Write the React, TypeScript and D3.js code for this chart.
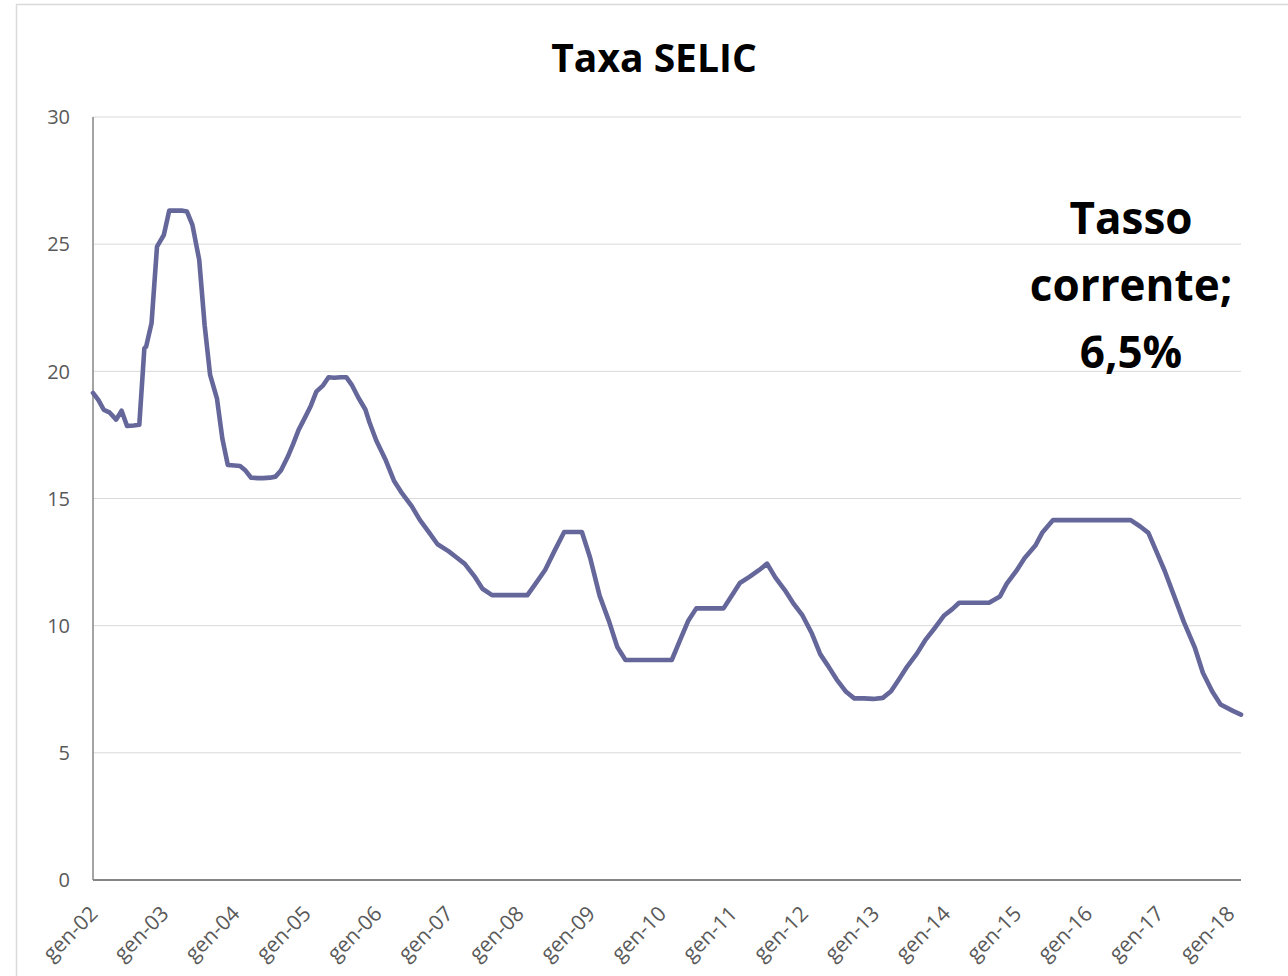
import React from "react";
import * as d3 from "d3";

const meetingDates: string[] = [
  "2002-01-23","2002-02-20","2002-03-20","2002-04-17","2002-05-22","2002-06-19","2002-07-17","2002-08-21","2002-09-18","2002-10-14","2002-10-23","2002-11-20","2002-12-18",
  "2003-01-22","2003-02-19","2003-03-19","2003-04-23","2003-05-21","2003-06-18","2003-07-23","2003-08-20","2003-09-17","2003-10-22","2003-11-19","2003-12-17",
  "2004-01-21","2004-02-18","2004-03-17","2004-04-14","2004-05-19","2004-06-16","2004-07-21","2004-08-18","2004-09-15","2004-10-20","2004-11-17","2004-12-15",
  "2005-01-19","2005-02-16","2005-03-16","2005-04-20","2005-05-18","2005-06-15","2005-07-20","2005-08-17","2005-09-14","2005-10-19","2005-11-23","2005-12-14",
  "2006-01-18","2006-03-08","2006-04-19","2006-05-31","2006-07-19","2006-08-30","2006-10-18","2006-11-29",
  "2007-01-24","2007-03-07","2007-04-18","2007-06-06","2007-07-18","2007-09-05","2007-10-17","2007-12-05",
  "2008-01-23","2008-03-05","2008-04-16","2008-06-04","2008-07-23","2008-09-10","2008-10-29","2008-12-10",
  "2009-01-21","2009-03-11","2009-04-29","2009-06-10","2009-07-22","2009-09-02","2009-10-21","2009-12-09",
  "2010-01-27","2010-03-17","2010-04-28","2010-06-09","2010-07-21","2010-09-01","2010-10-20","2010-12-08",
  "2011-01-19","2011-03-02","2011-04-20","2011-06-08","2011-07-20","2011-08-31","2011-10-19","2011-11-30",
  "2012-01-18","2012-03-07","2012-04-18","2012-05-30","2012-07-11","2012-08-29","2012-10-10","2012-11-28",
  "2013-01-16","2013-03-06","2013-04-17","2013-05-29","2013-07-10","2013-08-28","2013-10-09","2013-11-27",
  "2014-01-15","2014-02-26","2014-04-02","2014-05-28","2014-07-16","2014-09-03","2014-10-29","2014-12-03",
  "2015-01-21","2015-03-04","2015-04-29","2015-06-03","2015-07-29","2015-09-02","2015-10-21","2015-11-25",
  "2016-01-20","2016-03-02","2016-04-27","2016-06-08","2016-07-20","2016-08-31","2016-10-19","2016-11-30",
  "2017-01-11","2017-02-22","2017-04-12","2017-05-31","2017-07-26","2017-09-06","2017-10-25","2017-12-06",
  "2018-02-07","2018-03-21",
];

const selicValues: number[] = [
  19.15,18.87,18.48,18.39,18.10,18.45,17.85,17.87,17.90,20.90,20.97,21.90,24.90,
  25.36,26.32,26.32,26.32,26.28,25.76,24.38,21.80,19.86,18.94,17.35,16.32,
  16.30,16.28,16.10,15.82,15.80,15.80,15.82,15.86,16.10,16.64,17.15,17.70,
  18.22,18.65,19.20,19.45,19.77,19.75,19.77,19.77,19.47,18.95,18.50,18.00,
  17.28,16.50,15.70,15.20,14.70,14.16,13.65,13.20,
  12.93,12.68,12.43,11.95,11.45,11.20,11.20,11.20,
  11.20,11.20,11.65,12.19,12.95,13.68,13.68,13.68,
  12.68,11.18,10.16,9.16,8.65,8.65,8.65,8.65,
  8.65,8.65,9.42,10.18,10.68,10.68,10.68,10.68,
  11.18,11.68,11.92,12.18,12.44,11.90,11.40,10.90,
  10.40,9.68,8.88,8.40,7.89,7.40,7.14,7.14,
  7.12,7.16,7.42,7.90,8.40,8.90,9.42,9.90,
  10.40,10.65,10.90,10.90,10.90,10.90,11.15,11.65,
  12.15,12.65,13.15,13.65,14.15,14.15,14.15,14.15,
  14.15,14.15,14.15,14.15,14.15,14.15,13.90,13.65,
  12.90,12.15,11.15,10.15,9.15,8.15,7.40,6.90,
  6.65,6.50,
];

const xTickLabels: string[] = [
  "gen-02","gen-03","gen-04","gen-05","gen-06","gen-07","gen-08","gen-09","gen-10",
  "gen-11","gen-12","gen-13","gen-14","gen-15","gen-16","gen-17","gen-18",
];
const yTicks: number[] = [0, 5, 10, 15, 20, 25, 30];

const titleText = "Taxa SELIC";
const noteLines: string[] = ["Tasso", "corrente;", "6,5%"];

const W = 1288;
const H = 976;
const plot = { left: 93, right: 1241, top: 117, bottom: 880 };
const FONT = "'Open Sans', 'Noto Sans', sans-serif";

export default function App() {
  const parse = d3.utcParse("%Y-%m-%d");
  const data = meetingDates.map((d, i) => ({ date: parse(d) as Date, value: selicValues[i] }));
  const firstDate = data[0].date;
  const lastDate = data[data.length - 1].date;

  const x = d3.scaleUtc().domain([firstDate, lastDate]).range([plot.left, plot.right]);
  const y = d3.scaleLinear().domain([0, 30]).range([plot.bottom, plot.top]);

  const line = d3
    .line<{ date: Date; value: number }>()
    .x((d) => x(d.date))
    .y((d) => y(d.value));

  const tickDates = xTickLabels.map((_, i) => d3.utcYear.offset(firstDate, i));

  return (
    <svg
      width={W}
      height={H}
      style={{ position: "absolute", left: 0, top: 0, background: "#ffffff" }}
      fontFamily={FONT}
    >
      <rect x={0} y={0} width={W} height={H} fill="#ffffff" />
      {/* chart frame */}
      <line x1={16} y1={4.5} x2={W} y2={4.5} stroke="#d9d9d9" strokeWidth={1.5} />
      <line x1={16.5} y1={4} x2={16.5} y2={H} stroke="#d9d9d9" strokeWidth={1.5} />

      <text x={654} y={72} textAnchor="middle" fontSize={39} fontWeight={700} fill="#000">
        {titleText}
      </text>

      {yTicks.map((t) => (
        <g key={t}>
          {t > 0 && (
            <line x1={plot.left} x2={plot.right} y1={y(t)} y2={y(t)} stroke="#d9d9d9" strokeWidth={1} />
          )}
          <text x={70} y={y(t)} dy="0.36em" textAnchor="end" fontSize={20} fill="#595959">
            {t}
          </text>
        </g>
      ))}

      <line x1={plot.left} x2={plot.left} y1={plot.top} y2={plot.bottom} stroke="#868686" strokeWidth={1.5} />
      <line x1={plot.left} x2={plot.right} y1={plot.bottom} y2={plot.bottom} stroke="#868686" strokeWidth={2} />

      {tickDates.map((d, i) => (
        <text
          key={xTickLabels[i]}
          transform={`translate(${x(d) + 6},${plot.bottom + 35}) rotate(-45)`}
          textAnchor="end"
          fontSize={21}
          fill="#595959"
        >
          {xTickLabels[i]}
        </text>
      ))}

      <path
        d={line(data) || ""}
        fill="none"
        stroke="#65679b"
        strokeWidth={4.6}
        strokeLinejoin="round"
        strokeLinecap="round"
      />

      {noteLines.map((s, i) => (
        <text key={s} x={1131} y={234 + i * 67} textAnchor="middle" fontSize={44} fontWeight={700} fill="#000">
          {s}
        </text>
      ))}
    </svg>
  );
}
